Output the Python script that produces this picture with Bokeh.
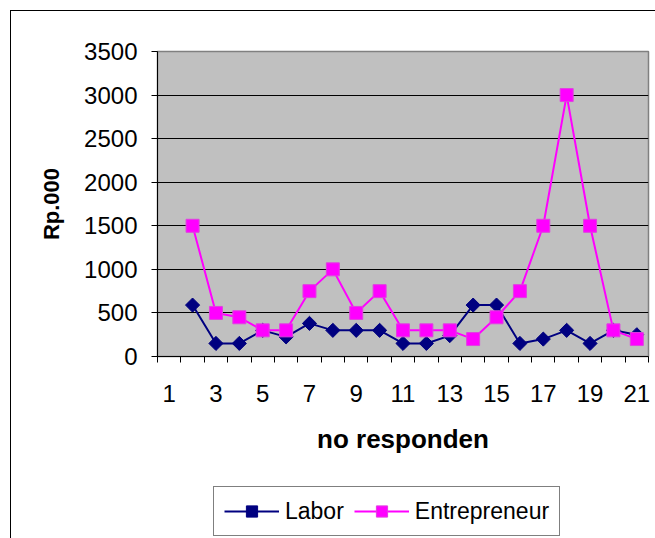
from bokeh.plotting import figure
from bokeh.layouts import column
from bokeh.models import FixedTicker, Legend, LegendItem, ColumnDataSource, Range1d, InlineStyleSheet
from bokeh.embed import file_html
from bokeh.resources import INLINE
import math

# ---- data ----
categories = [1, 2, 3, 4, 5, 6, 7, 8, 9, 10, 11, 12, 13, 14, 15, 16, 17, 18, 19, 20, 21]
x_tick_labels = [1, 3, 5, 7, 9, 11, 13, 15, 17, 19, 21]
respondents = [2, 3, 4, 5, 6, 7, 8, 9, 10, 11, 12, 13, 14, 15, 16, 17, 18, 19, 20, 21]
labor = [590, 150, 150, 300, 225, 380, 300, 300, 300, 150, 150, 240, 590, 590, 150, 200, 300, 150, 300, 250]
entrepreneur = [1500, 500, 450, 300, 300, 750, 1000, 500, 750, 300, 300, 300, 200, 450, 750, 1500, 3000, 1500, 300, 200]
y_ticks = [0, 500, 1000, 1500, 2000, 2500, 3000, 3500]
series_names = ["Labor", "Entrepreneur"]

FONT = "Liberation Sans"
NAVY = "#000080"
MAGENTA = "#FF00FF"

src = ColumnDataSource(dict(x=respondents, labor=labor, ent=entrepreneur))

border_top_css = InlineStyleSheet(css="""
:host::after {
  content: "";
  position: absolute;
  left: 10px; top: 10px; right: -20px; bottom: 0px;
  border-left: 1px solid #000;
  border-top: 1px solid #000;
  pointer-events: none;
}
""")
border_bottom_css = InlineStyleSheet(css="""
:host::after {
  content: "";
  position: absolute;
  left: 10px; top: 0px; width: 0px; bottom: -20px;
  border-left: 1px solid #000;
  pointer-events: none;
}
""")

p = figure(width=655, height=480, output_backend="svg", toolbar_location=None,
           x_range=Range1d(categories[0] - 0.5, categories[-1] + 0.5),
           y_range=Range1d(y_ticks[0], y_ticks[-1]),
           min_border_left=157, min_border_right=7, min_border_top=51, min_border_bottom=124,
           background_fill_color="#C0C0C0", border_fill_color="white",
           outline_line_color="#808080", outline_line_width=1.5,
           stylesheets=[border_top_css])

# grid
p.xgrid.visible = False
p.ygrid.ticker = FixedTicker(ticks=y_ticks[1:-1])
p.ygrid.grid_line_color = "black"
p.ygrid.grid_line_width = 1

# x axis
boundaries = [c - 0.5 for c in categories] + [categories[-1] + 0.5]
p.xaxis.ticker = FixedTicker(ticks=x_tick_labels, minor_ticks=boundaries)
p.xaxis.major_tick_line_color = None
p.xaxis.major_tick_out = 0
p.xaxis.major_tick_in = 0
p.xaxis.minor_tick_line_color = "black"
p.xaxis.minor_tick_out = 6
p.xaxis.minor_tick_in = 0
p.xaxis.axis_line_color = "black"
p.xaxis.major_label_text_font = FONT
p.xaxis.major_label_text_font_size = "24px"
p.xaxis.major_label_text_color = "black"
p.xaxis.major_label_standoff = 22
p.xaxis.axis_label = "no responden"
p.xaxis.axis_label_text_font = FONT
p.xaxis.axis_label_text_font_size = "26px"
p.xaxis.axis_label_text_font_style = "bold"
p.xaxis.axis_label_text_color = "black"
p.xaxis.axis_label_standoff = 19

# y axis
p.yaxis.ticker = FixedTicker(ticks=y_ticks)
p.yaxis.minor_tick_line_color = None
p.yaxis.major_tick_out = 6
p.yaxis.major_tick_in = 0
p.yaxis.major_tick_line_color = "black"
p.yaxis.axis_line_color = "black"
p.yaxis.major_label_text_font = FONT
p.yaxis.major_label_text_font_size = "24px"
p.yaxis.major_label_text_color = "black"
p.yaxis.major_label_standoff = 14
p.yaxis.axis_label = "Rp.000"
p.yaxis.axis_label_text_font = FONT
p.yaxis.axis_label_text_font_size = "22px"
p.yaxis.axis_label_text_font_style = "bold"
p.yaxis.axis_label_text_color = "black"
p.yaxis.axis_label_standoff = 17

# series
p.line("x", "labor", source=src, line_color=NAVY, line_width=2)
p.scatter("x", "labor", source=src, marker="square", size=10, angle=math.pi / 4,
          fill_color=NAVY, line_color=NAVY)
p.line("x", "ent", source=src, line_color=MAGENTA, line_width=2)
p.scatter("x", "ent", source=src, marker="square", size=13,
          fill_color=MAGENTA, line_color="#E040E0")

# legend strip below the chart (same series, outside this strip's visible range)
p2 = figure(width=655, height=58, output_backend="svg", toolbar_location=None,
            x_range=Range1d(0, 1), y_range=Range1d(0, 1),
            min_border=0, outline_line_color=None,
            background_fill_color="white", border_fill_color="white",
            stylesheets=[border_bottom_css])
p2.axis.visible = False
p2.grid.visible = False
g1 = p2.line("x", "labor", source=src, line_color=NAVY, line_width=2)
g1m = p2.scatter("x", "labor", source=src, marker="square", size=10, angle=math.pi / 4,
                 fill_color=NAVY, line_color=NAVY)
g2 = p2.line("x", "ent", source=src, line_color=MAGENTA, line_width=2)
g2m = p2.scatter("x", "ent", source=src, marker="square", size=13,
                 fill_color=MAGENTA, line_color="#E040E0")

legend = Legend(items=[LegendItem(label=series_names[0], renderers=[g1, g1m]),
                       LegendItem(label=series_names[1], renderers=[g2, g2m])],
                orientation="horizontal", location=(56, 2),
                label_text_font=FONT, label_text_font_size="23px", label_text_color="black",
                glyph_width=55, glyph_height=28, label_height=28, label_standoff=6, spacing=10,
                padding=10, margin=0,
                border_line_color="black", border_line_width=1,
                background_fill_color="white", background_fill_alpha=1)
p2.add_layout(legend)

layout = column(p, p2, spacing=0)
open("out.html", "w").write(file_html(layout, INLINE))
